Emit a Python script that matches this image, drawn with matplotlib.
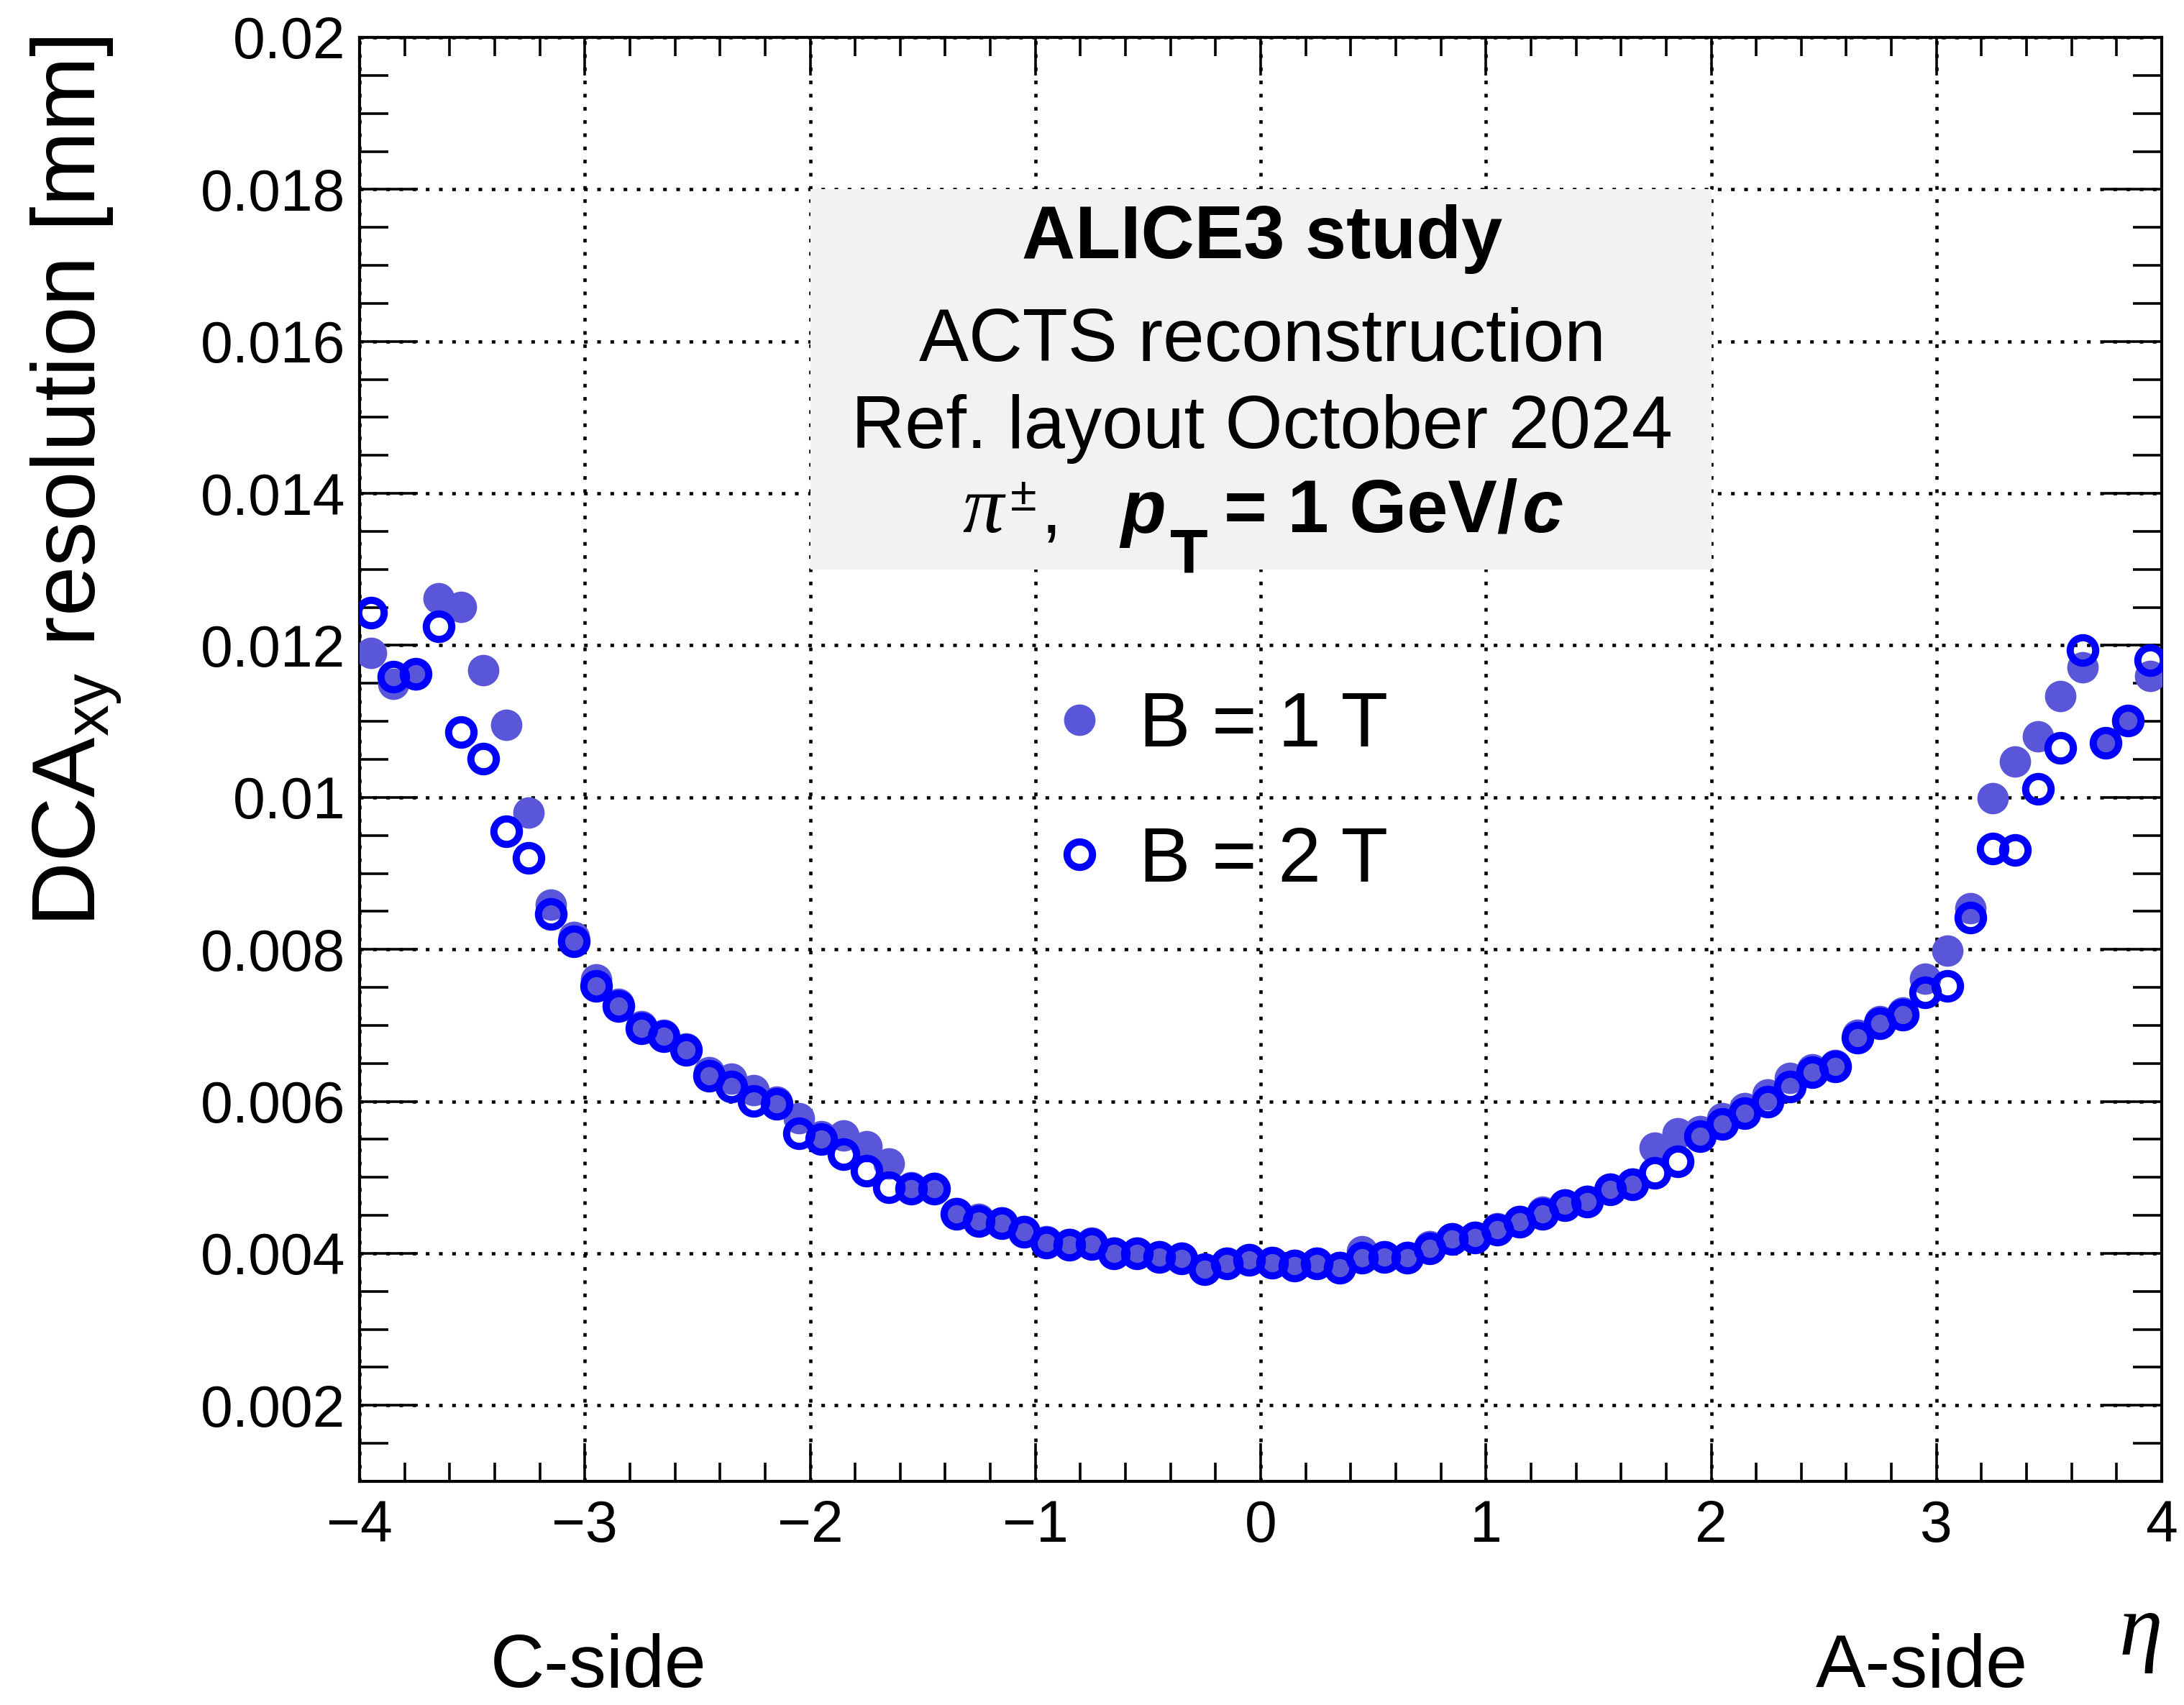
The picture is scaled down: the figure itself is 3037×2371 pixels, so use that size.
import numpy as np
import matplotlib
matplotlib.use("Agg")
import matplotlib.pyplot as plt
from matplotlib.patches import Rectangle
from matplotlib.ticker import MultipleLocator, FuncFormatter
from matplotlib.transforms import IdentityTransform

plt.rcParams['font.family'] = ['Liberation Sans', 'DejaVu Sans']
plt.rcParams['mathtext.default'] = 'regular'

# ---------------- data ----------------
eta = [-3.95, -3.85, -3.75, -3.65, -3.55, -3.45, -3.35, -3.25, -3.15, -3.05,
       -2.95, -2.85, -2.75, -2.65, -2.55, -2.45, -2.35, -2.25, -2.15, -2.05,
       -1.95, -1.85, -1.75, -1.65, -1.55, -1.45, -1.35, -1.25, -1.15, -1.05,
       -0.95, -0.85, -0.75, -0.65, -0.55, -0.45, -0.35, -0.25, -0.15, -0.05,
       0.05, 0.15, 0.25, 0.35, 0.45, 0.55, 0.65, 0.75, 0.85, 0.95,
       1.05, 1.15, 1.25, 1.35, 1.45, 1.55, 1.65, 1.75, 1.85, 1.95,
       2.05, 2.15, 2.25, 2.35, 2.45, 2.55, 2.65, 2.75, 2.85, 2.95,
       3.05, 3.15, 3.25, 3.35, 3.45, 3.55, 3.65, 3.75, 3.85, 3.95]

res_B1 = [0.01190, 0.01149, 0.01162, 0.01262, 0.01251, 0.01167, 0.01095, 0.00980, 0.00859, 0.00816,
          0.00760, 0.00728, 0.00699, 0.00688, 0.00670, 0.00638, 0.00630, 0.00615, 0.00600, 0.00578,
          0.00554, 0.00555, 0.00541, 0.00518, 0.00487, 0.00486, 0.00453, 0.00445, 0.00441, 0.00429,
          0.00416, 0.00412, 0.00414, 0.00401, 0.00401, 0.00396, 0.00394, 0.00379, 0.00388, 0.00392,
          0.00389, 0.00385, 0.00388, 0.00382, 0.00403, 0.00396, 0.00395, 0.00409, 0.00420, 0.00422,
          0.00433, 0.00443, 0.00455, 0.00464, 0.00469, 0.00485, 0.00492, 0.00539, 0.00558, 0.00561,
          0.00578, 0.00591, 0.00609, 0.00631, 0.00642, 0.00648, 0.00688, 0.00706, 0.00717, 0.00761,
          0.00798, 0.00854, 0.00999, 0.01047, 0.01080, 0.01133, 0.01171, 0.01072, 0.01101, 0.01160]

res_B2 = [0.01243, 0.01159, 0.01163, 0.01225, 0.01086, 0.01051, 0.00955, 0.00920, 0.00847, 0.00811,
          0.00752, 0.00725, 0.00696, 0.00686, 0.00668, 0.00634, 0.00619, 0.00601, 0.00597, 0.00558,
          0.00550, 0.00531, 0.00509, 0.00487, 0.00485, 0.00485, 0.00452, 0.00443, 0.00440, 0.00428,
          0.00414, 0.00411, 0.00412, 0.00400, 0.00400, 0.00395, 0.00393, 0.00379, 0.00387, 0.00391,
          0.00388, 0.00384, 0.00387, 0.00381, 0.00394, 0.00395, 0.00394, 0.00407, 0.00419, 0.00421,
          0.00431, 0.00442, 0.00452, 0.00463, 0.00468, 0.00484, 0.00491, 0.00506, 0.00521, 0.00554,
          0.00570, 0.00584, 0.00600, 0.00619, 0.00638, 0.00646, 0.00684, 0.00703, 0.00714, 0.00743,
          0.00752, 0.00842, 0.00933, 0.00931, 0.01011, 0.01065, 0.01194, 0.01072, 0.01101, 0.01181]

series_labels = ['B = 1 T', 'B = 2 T']
info_lines = ['ALICE3 study', 'ACTS reconstruction', 'Ref. layout October 2024']
x_title = '\u03b7'
y_title = r'DCA$_{\mathregular{xy}}$ resolution [mm]'
side_labels = ['C-side', 'A-side']

# ---------------- figure ----------------
W_PX, H_PX = 3037, 2371
fig = plt.figure(figsize=(W_PX / 100, H_PX / 100), dpi=100)
ax = fig.add_axes([500 / W_PX, 1 - 2060 / H_PX, (3006 - 500) / W_PX, (2060 - 52) / H_PX])

ax.set_xlim(-4, 4)
ax.set_ylim(0.001, 0.02)

ax.xaxis.set_major_locator(MultipleLocator(1))
ax.xaxis.set_minor_locator(MultipleLocator(0.2))
ax.yaxis.set_major_locator(MultipleLocator(0.002))
ax.yaxis.set_minor_locator(MultipleLocator(0.0005))
ax.xaxis.set_major_formatter(FuncFormatter(lambda v, p: f'{v:g}'.replace('-', '\u2212')))
ax.yaxis.set_major_formatter(FuncFormatter(lambda v, p: f'{v:g}'))

for s in ax.spines.values():
    s.set_linewidth(3.0)

ax.tick_params(axis='x', which='major', direction='in', length=38, width=2.6,
               top=True, bottom=True, labelsize=58, pad=18)
ax.tick_params(axis='x', which='minor', direction='in', length=19, width=2.6,
               top=True, bottom=True)
ax.tick_params(axis='y', which='major', direction='in', length=58, width=2.6,
               left=True, right=True, labelsize=58, pad=14)
ax.tick_params(axis='y', which='minor', direction='in', length=29, width=2.6,
               left=True, right=True)

ax.set_axisbelow(True)
ax.grid(which='major', color='black', linewidth=3.3, linestyle=(0, (1.1, 2.9)))

# info box (drawn over the grid)
ax.add_patch(Rectangle((-2, 0.013), 4, 0.005, facecolor='#f2f2f2', edgecolor='none', zorder=1))

# data
l1, = ax.plot(eta, res_B1, linestyle='none', marker='o', markersize=31.5,
              markerfacecolor='#5a56d9', markeredgecolor='none', zorder=3, label=series_labels[0])
l2, = ax.plot(eta, res_B2, linestyle='none', marker='o', markersize=25.5,
              markerfacecolor='none', markeredgecolor='#0000ff', markeredgewidth=7.2,
              zorder=4, label=series_labels[1])

leg = ax.legend(handles=[l1, l2], fontsize=77, frameon=False, handlelength=1.0,
                handletextpad=0.27, labelspacing=0.82, borderpad=0, borderaxespad=0,
                loc='upper left', bbox_to_anchor=(1448 / W_PX, 1 - 960 / H_PX),
                bbox_transform=fig.transFigure, numpoints=1)

# axis titles
fig.text(132 / W_PX, 1 - 670 / H_PX, y_title, rotation=90, rotation_mode='anchor',
         ha='center', va='baseline', fontsize=90)
fig.text(3007 / W_PX, 1 - 2301 / H_PX, x_title, ha='right', va='baseline', fontsize=88,
         family=['Liberation Serif', 'DejaVu Serif'], style='italic')
fig.text(832 / W_PX, 1 - 2346 / H_PX, side_labels[0], ha='center', va='baseline', fontsize=75)
fig.text(2672 / W_PX, 1 - 2346 / H_PX, side_labels[1], ha='center', va='baseline', fontsize=75)

# info text
xc = 1755 / W_PX
fig.text(xc, 1 - 359 / H_PX, info_lines[0], ha='center', va='baseline', fontsize=74, weight='bold')
fig.text(xc, 1 - 502 / H_PX, info_lines[1], ha='center', va='baseline', fontsize=74.5)
fig.text(xc, 1 - 623 / H_PX, info_lines[2], ha='center', va='baseline', fontsize=74)

# last line built from pieces (pixel coordinates)
idt = IdentityTransform()
base = H_PX - 740
fig.text(1338, base, '\u03c0', transform=idt, ha='left', va='baseline', fontsize=82,
         family=['Liberation Serif', 'DejaVu Serif'], style='italic')
fig.text(1405, H_PX - 710, '\u00b1', transform=idt, ha='left', va='baseline', fontsize=48)
fig.text(1448, base, ',', transform=idt, ha='left', va='baseline', fontsize=74)
fig.text(1558, base, 'p', transform=idt, ha='left', va='baseline', fontsize=74,
         weight='bold', style='italic')
fig.text(1627, H_PX - 795, 'T', transform=idt, ha='left', va='baseline', fontsize=62, weight='bold')
t6 = fig.text(1702, base, '= 1 GeV/', transform=idt, ha='left', va='baseline', fontsize=74,
              weight='bold')
r = fig.canvas.get_renderer()
x6 = t6.get_window_extent(r).x1
fig.text(x6 + 6, base, 'c', transform=idt, ha='left', va='baseline', fontsize=74,
         weight='bold', style='italic')

fig.savefig('out.png', dpi=100, facecolor='white')
